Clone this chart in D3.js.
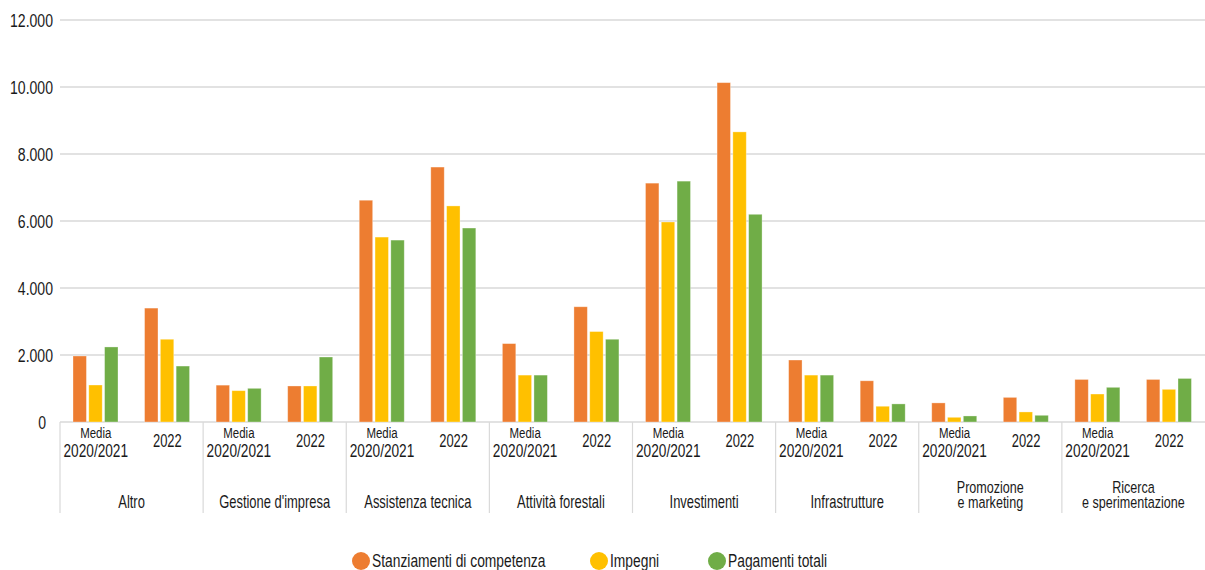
<!DOCTYPE html>
<html><head><meta charset="utf-8">
<script src="https://cdn.jsdelivr.net/npm/d3@7"></script>
<style>
body{margin:0;background:#fff;}
svg{display:block;font-family:"Liberation Sans","DejaVu Sans",sans-serif;}
</style></head>
<body><svg id="c" width="1205" height="570"></svg>
<script>
const categories = ["Altro","Gestione d'impresa","Assistenza tecnica","Attività forestali","Investimenti","Infrastrutture","Promozione\ne marketing","Ricerca\ne sperimentazione"];
const periods = ["Media\n2020/2021","2022"];
const series = ["Stanziamenti di competenza","Impegni","Pagamenti totali"];
const colors = ["#ED7D31","#FFC000","#70AD47"];
// values per category: [Media 2020/2021, 2022]
const stanziamenti = [[1970,3400],[1100,1075],[6620,7610],[2340,3440],[7130,10130],[1850,1230],[570,735],[1270,1270]];
const impegni      = [[1104,2470],[935,1075],[5520,6450],[1400,2700],[5970,8660],[1400,470],[140,300],[835,975]];
const pagamenti    = [[2240,1670],[1005,1940],[5430,5790],[1400,2470],[7190,6200],[1400,540],[180,200],[1035,1300]];
const yTicks = [0,2000,4000,6000,8000,10000,12000];

(function(){
const seriesVals = [stanziamenti, impegni, pagamenti];
const svg = d3.select("#c");
const mLeft = 60, mRight = 1205, mTop = 20, base = 422;
const y = d3.scaleLinear().domain([0,12000]).range([base, mTop]);
const x0 = d3.scaleBand().domain(categories).range([mLeft, mRight]);
const x1 = d3.scaleBand().domain(periods).range([0, x0.bandwidth()]);
const x2 = d3.scaleBand().domain(series).range([13, 58]).paddingInner(0.15);
const fmt = v => d3.format(",")(v).replace(/,/g, ".");
const ink = "#1a1a1a";

function label(parent, x, yy, txt, size, sx, anchor) {
  return parent.append("text")
    .attr("transform", `translate(${x},${yy}) scale(${sx},1)`)
    .attr("text-anchor", anchor || "middle")
    .attr("font-size", size).attr("fill", ink).text(txt);
}

svg.append("g").selectAll("line").data(yTicks).join("line")
  .attr("x1", mLeft).attr("x2", mRight)
  .attr("y1", d => y(d)).attr("y2", d => y(d))
  .attr("stroke", "#d9d9d9").attr("stroke-width", 1.5);

const yg = svg.append("g");
yTicks.forEach(t => label(yg, t === 0 ? 46 : 53, y(t) + 7, fmt(t), 19, 0.74, "end"));

const rows = [];
categories.forEach((c, ci) => periods.forEach((p, pi) => series.forEach((s, si) => {
  rows.push({c, p, s, si, v: seriesVals[si][ci][pi]});
})));
svg.append("g").selectAll("rect").data(rows).join("rect")
  .attr("x", d => x0(d.c) + x1(d.p) + x2(d.s))
  .attr("width", x2.bandwidth())
  .attr("y", d => y(d.v))
  .attr("height", d => base - y(d.v))
  .attr("fill", d => colors[d.si])
  .attr("stroke", "#fff").attr("stroke-opacity", 0.4).attr("stroke-width", 0.8);

const seps = categories.map(c => x0(c));
svg.append("g").selectAll("line").data(seps).join("line")
  .attr("x1", d => d).attr("x2", d => d)
  .attr("y1", base).attr("y2", 513)
  .attr("stroke", "#d9d9d9").attr("stroke-width", 1.2);

const pg = svg.append("g");
categories.forEach(c => periods.forEach(p => {
  const cx = x0(c) + x1(p) + x1.bandwidth() / 2;
  const lines = p.split("\n");
  if (lines.length === 2) {
    label(pg, cx, 438, lines[0], 15.5, 0.74);
    label(pg, cx, 456.5, lines[1], 18, 0.76);
  } else {
    label(pg, cx, 446.5, lines[0], 18, 0.72);
  }
}));

const cg = svg.append("g");
categories.forEach(c => {
  const cx = x0(c) + x0.bandwidth() / 2;
  const lines = c.split("\n");
  if (lines.length === 2) {
    label(cg, cx, 492.5, lines[0], 17, 0.74);
    label(cg, cx, 508, lines[1], 17, 0.74);
  } else {
    label(cg, cx, 508, lines[0], 17.5, 0.74);
  }
});

const legX = [361, 599, 717];
const lg = svg.append("g");
series.forEach((s, i) => {
  lg.append("circle").attr("cx", legX[i]).attr("cy", 561).attr("r", 9).attr("fill", colors[i]);
  label(lg, legX[i] + 11, 567, s, 17.5, 0.79, "start");
});
})();
</script></body></html>
